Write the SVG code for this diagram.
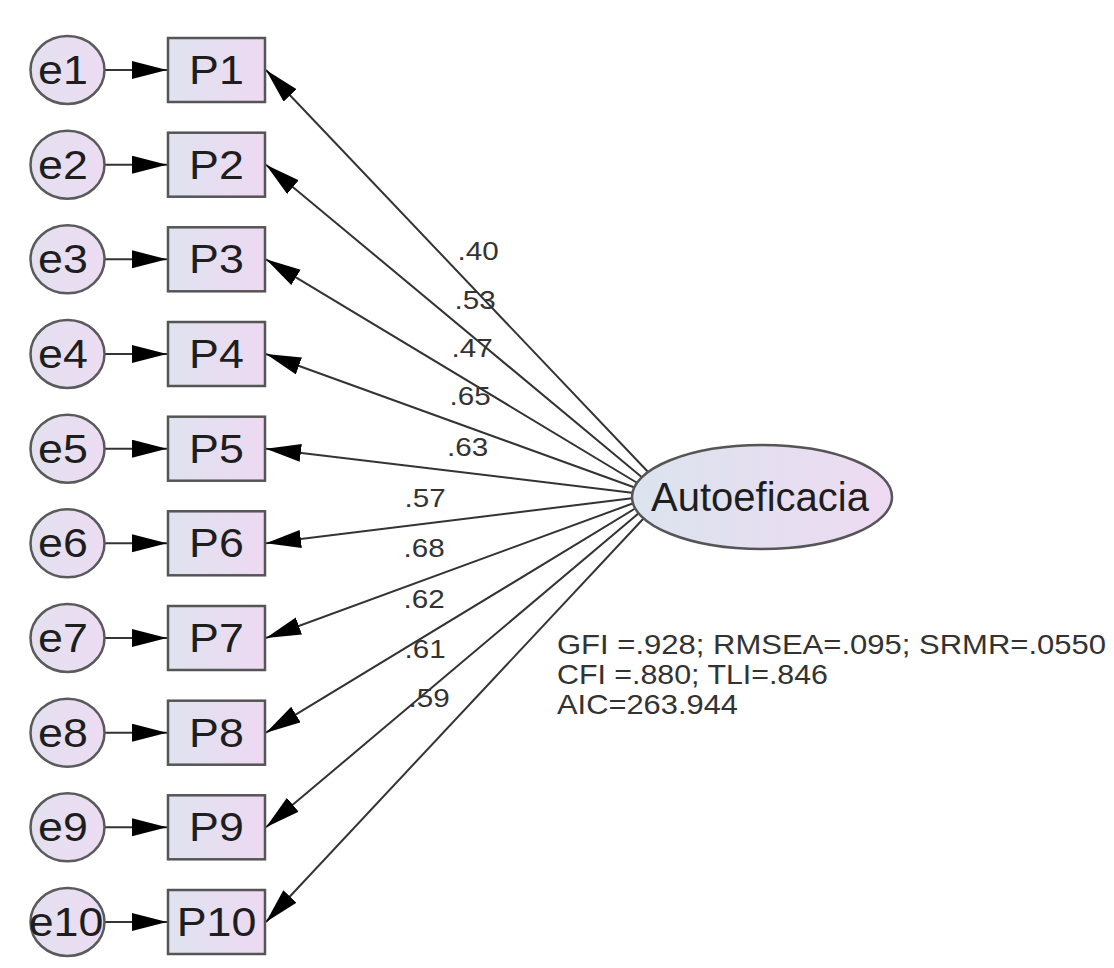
<svg xmlns="http://www.w3.org/2000/svg" width="1114" height="968" viewBox="0 0 1114 968">
<style>
.obs{stroke:#555;stroke-width:2.5;fill:url(#gObs)}
.err{stroke:#5a5a5a;stroke-width:2.5;fill:url(#gErr)}
.lat{stroke:#555;stroke-width:2.5;fill:url(#gLat)}
.t{font-family:"Liberation Sans",Arial,sans-serif;fill:#1e1e1e}
.big{font-size:40px;text-anchor:middle}
.lbl{font-size:26px;fill:#333}
.fit{font-size:28px;fill:#333}
.c{stroke:#333;stroke-width:2;fill:none;marker-end:url(#ah)}
</style>
<defs>
<linearGradient id="gObs" x1="0" y1="0" x2="1" y2="0"><stop offset="0" stop-color="#dfe3ef"/><stop offset="1" stop-color="#eed9f2"/></linearGradient>
<linearGradient id="gErr" x1="0" y1="0" x2="1" y2="0"><stop offset="0" stop-color="#e3e1f0"/><stop offset="1" stop-color="#eddcf2"/></linearGradient>
<linearGradient id="gLat" x1="0" y1="0" x2="1" y2="0"><stop offset="0" stop-color="#dbe4ee"/><stop offset="1" stop-color="#eedaf2"/></linearGradient>
<marker id="ah" markerUnits="userSpaceOnUse" markerWidth="36" markerHeight="20" refX="35" refY="9" orient="auto"><path d="M0,0 L35,9 L0,18 Z" fill="#000"/></marker>
</defs>
<g id="connectors">
<line class="c" x1="105" y1="70" x2="167" y2="70"/>
<line class="c" x1="105" y1="164.7" x2="167" y2="164.7"/>
<line class="c" x1="105" y1="259.3" x2="167" y2="259.3"/>
<line class="c" x1="105" y1="354" x2="167" y2="354"/>
<line class="c" x1="105" y1="448.7" x2="167" y2="448.7"/>
<line class="c" x1="105" y1="543.3" x2="167" y2="543.3"/>
<line class="c" x1="105" y1="638" x2="167" y2="638"/>
<line class="c" x1="105" y1="732.7" x2="167" y2="732.7"/>
<line class="c" x1="105" y1="827.3" x2="167" y2="827.3"/>
<line class="c" x1="105" y1="922" x2="167" y2="922"/>
<line class="c" x1="650" y1="474" x2="266" y2="70"/>
<line class="c" x1="644" y1="479" x2="266" y2="164.7"/>
<line class="c" x1="639" y1="484" x2="266" y2="259.3"/>
<line class="c" x1="636" y1="488" x2="266" y2="354"/>
<line class="c" x1="634" y1="493" x2="266" y2="448.7"/>
<line class="c" x1="634" y1="498" x2="266" y2="543.3"/>
<line class="c" x1="634" y1="503" x2="266" y2="638"/>
<line class="c" x1="636" y1="508" x2="266" y2="732.7"/>
<line class="c" x1="639" y1="513" x2="266" y2="827.3"/>
<line class="c" x1="644" y1="518" x2="266" y2="922"/>
</g>
<g id="loadings" class="t lbl">
<text transform="translate(457.5,260) scale(1.14,1)">.40</text>
<text transform="translate(454.5,309) scale(1.14,1)">.53</text>
<text transform="translate(451.5,357) scale(1.14,1)">.47</text>
<text transform="translate(449.5,405) scale(1.14,1)">.65</text>
<text transform="translate(447,456) scale(1.14,1)">.63</text>
<text transform="translate(404.5,507) scale(1.14,1)">.57</text>
<text transform="translate(403.5,557) scale(1.14,1)">.68</text>
<text transform="translate(403.5,608) scale(1.14,1)">.62</text>
<text transform="translate(404.5,658) scale(1.14,1)">.61</text>
<text transform="translate(408.5,707) scale(1.14,1)">.59</text>
</g>
<g id="e1"><ellipse class="err" cx="67.5" cy="70" rx="37" ry="34"/><text class="t big" transform="translate(63,84) scale(1.12,1)">e1</text></g>
<g id="e2"><ellipse class="err" cx="67.5" cy="164.7" rx="37" ry="34"/><text class="t big" transform="translate(63,178.7) scale(1.12,1)">e2</text></g>
<g id="e3"><ellipse class="err" cx="67.5" cy="259.3" rx="37" ry="34"/><text class="t big" transform="translate(63,273.3) scale(1.12,1)">e3</text></g>
<g id="e4"><ellipse class="err" cx="67.5" cy="354" rx="37" ry="34"/><text class="t big" transform="translate(63,368) scale(1.12,1)">e4</text></g>
<g id="e5"><ellipse class="err" cx="67.5" cy="448.7" rx="37" ry="34"/><text class="t big" transform="translate(63,462.7) scale(1.12,1)">e5</text></g>
<g id="e6"><ellipse class="err" cx="67.5" cy="543.3" rx="37" ry="34"/><text class="t big" transform="translate(63,557.3) scale(1.12,1)">e6</text></g>
<g id="e7"><ellipse class="err" cx="67.5" cy="638" rx="37" ry="34"/><text class="t big" transform="translate(63,652) scale(1.12,1)">e7</text></g>
<g id="e8"><ellipse class="err" cx="67.5" cy="732.7" rx="37" ry="34"/><text class="t big" transform="translate(63,746.7) scale(1.12,1)">e8</text></g>
<g id="e9"><ellipse class="err" cx="67.5" cy="827.3" rx="37" ry="34"/><text class="t big" transform="translate(63,841.3) scale(1.12,1)">e9</text></g>
<g id="e10"><ellipse class="err" cx="67.5" cy="922" rx="37" ry="34"/><text class="t big" transform="translate(66,936) scale(1.12,1)">e10</text></g>
<g id="P1"><rect class="obs" x="168" y="38" width="97" height="64"/><text class="t big" transform="translate(216.5,84) scale(1.12,1)">P1</text></g>
<g id="P2"><rect class="obs" x="168" y="132.7" width="97" height="64"/><text class="t big" transform="translate(216.5,178.7) scale(1.12,1)">P2</text></g>
<g id="P3"><rect class="obs" x="168" y="227.3" width="97" height="64"/><text class="t big" transform="translate(216.5,273.3) scale(1.12,1)">P3</text></g>
<g id="P4"><rect class="obs" x="168" y="322" width="97" height="64"/><text class="t big" transform="translate(216.5,368) scale(1.12,1)">P4</text></g>
<g id="P5"><rect class="obs" x="168" y="416.7" width="97" height="64"/><text class="t big" transform="translate(216.5,462.7) scale(1.12,1)">P5</text></g>
<g id="P6"><rect class="obs" x="168" y="511.3" width="97" height="64"/><text class="t big" transform="translate(216.5,557.3) scale(1.12,1)">P6</text></g>
<g id="P7"><rect class="obs" x="168" y="606" width="97" height="64"/><text class="t big" transform="translate(216.5,652) scale(1.12,1)">P7</text></g>
<g id="P8"><rect class="obs" x="168" y="700.7" width="97" height="64"/><text class="t big" transform="translate(216.5,746.7) scale(1.12,1)">P8</text></g>
<g id="P9"><rect class="obs" x="168" y="795.3" width="97" height="64"/><text class="t big" transform="translate(216.5,841.3) scale(1.12,1)">P9</text></g>
<g id="P10"><rect class="obs" x="168" y="890" width="97" height="64"/><text class="t big" transform="translate(216.5,936) scale(1.12,1)">P10</text></g>
<g id="Autoeficacia"><ellipse class="lat" cx="762" cy="497" rx="130" ry="52"/><text class="t big" x="760" y="511">Autoeficacia</text></g>
<g id="fit" class="t fit">
<text x="557" y="654" textLength="549" lengthAdjust="spacingAndGlyphs">GFI =.928; RMSEA=.095; SRMR=.0550</text>
<text x="557" y="684" textLength="271" lengthAdjust="spacingAndGlyphs">CFI =.880; TLI=.846</text>
<text x="557" y="714" textLength="181" lengthAdjust="spacingAndGlyphs">AIC=263.944</text>
</g>
</svg>
